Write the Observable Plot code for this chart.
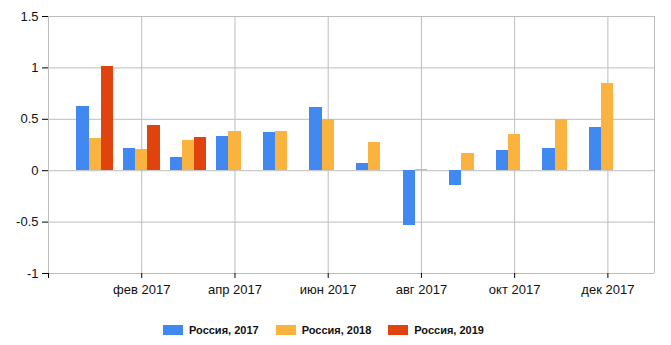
<!DOCTYPE html>
<html>
<head>
<meta charset="utf-8">
<script src="https://cdn.jsdelivr.net/npm/d3@7"></script>
<script src="https://cdn.jsdelivr.net/npm/@observablehq/plot@0.6"></script>
<style>
  body { margin: 0; background: #fff; font-family: "Liberation Sans", Arial, sans-serif; }
  #wrap { position: relative; width: 671px; height: 345px; }
  #legend { position: absolute; left: 163px; top: 324px; display: flex; gap: 17px; font: bold 11px "Liberation Sans", Arial, sans-serif; color: #111; }
  .item { display: flex; align-items: center; gap: 6px; }
  .sw { width: 20px; height: 10px; display: inline-block; }
</style>
</head>
<body>
<div id="wrap"><div id="chart"></div><div id="legend"></div></div>
<script>
const monthIndex = [1,2,3,4,5,6,7,8,9,10,11,12];
const seriesNames = ["Россия, 2017", "Россия, 2018", "Россия, 2019"];
const seriesColors = ["#4189f0", "#fbb340", "#e0430d"];
const s2017 = [0.62, 0.22, 0.13, 0.33, 0.37, 0.61, 0.07, -0.53, -0.14, 0.20, 0.22, 0.42];
const s2018 = [0.31, 0.21, 0.29, 0.38, 0.38, 0.50, 0.27, 0.01, 0.17, 0.35, 0.50, 0.85];
const s2019 = [1.01, 0.44, 0.32];
const xTickPos = [2, 4, 6, 8, 10, 12];
const xTickLabels = ["фев 2017", "апр 2017", "июн 2017", "авг 2017", "окт 2017", "дек 2017"];
const yTicks = [-1, -0.5, 0, 0.5, 1, 1.5];

const allSeries = [s2017, s2018, s2019];
const data = [];
allSeries.forEach((vals, k) => vals.forEach((v, i) => data.push({m: monthIndex[i], k, v, series: seriesNames[k]})));
const w = 0.262;
const labelOf = new Map(xTickPos.map((p, i) => [p, xTickLabels[i]]));

const chart = Plot.plot({
  width: 671,
  height: 310,
  marginLeft: 48,
  marginRight: 17,
  marginTop: 16,
  marginBottom: 37,
  style: { fontFamily: "Liberation Sans, Arial, sans-serif", fontSize: "13px", color: "#222" },
  x: { type: "linear", domain: [0, 13], label: null },
  y: { domain: [-1, 1.5], label: null },
  color: { domain: seriesNames, range: seriesColors },
  marks: [
    Plot.ruleY(yTicks, { stroke: "#bdbdbd", strokeWidth: 1 }),
    Plot.ruleX([0, ...xTickPos, 13], { stroke: "#bdbdbd", strokeWidth: 1 }),
    Plot.rectY(data, {
      x1: d => d.m - 1.5 * w + d.k * w,
      x2: d => d.m - 0.5 * w + d.k * w,
      y1: d => 0,
      y2: "v",
      fill: "series",
      shapeRendering: "crispEdges"
    }),
    Plot.axisY({ ticks: yTicks, tickSize: 6, tickPadding: 4, stroke: "#000", fill: "#111", fontSize: 13, label: null, tickFormat: d => String(d) }),
    Plot.axisX({ ticks: [0, ...xTickPos], tickSize: 5, tickPadding: 6, stroke: "#000", fill: "#111", fontSize: 13, label: null, tickFormat: d => labelOf.get(d) || "" })
  ]
});
document.getElementById("chart").appendChild(chart);

const legend = document.getElementById("legend");
seriesNames.forEach((name, i) => {
  const it = document.createElement("div");
  it.className = "item";
  const sw = document.createElement("span");
  sw.className = "sw";
  sw.style.background = seriesColors[i];
  const t = document.createElement("span");
  t.textContent = name;
  it.appendChild(sw);
  it.appendChild(t);
  legend.appendChild(it);
});
</script>
</body>
</html>
